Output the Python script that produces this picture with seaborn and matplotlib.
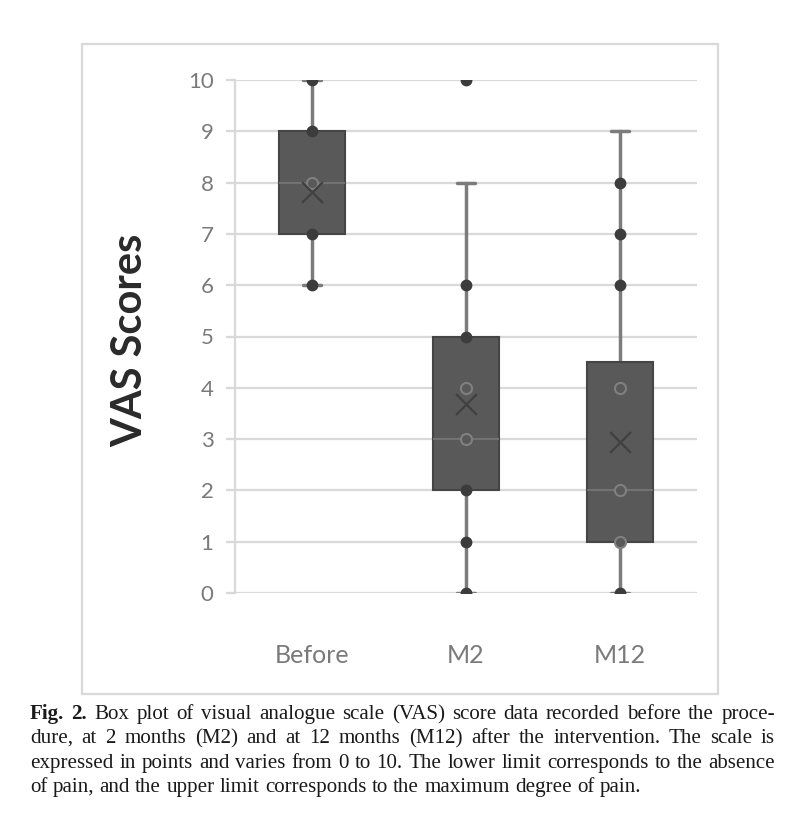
import matplotlib
matplotlib.use("Agg")
import matplotlib.pyplot as plt
from matplotlib.patches import Rectangle
import seaborn as sns
import pandas as pd
import numpy as np

# ---------------- data ----------------
groups = ["Before", "M2", "M12"]
whisker_low = [6, 0, 0]
q1 = [7, 2, 1]
median = [8, 3, 2]
q3 = [9, 5, 4.5]
whisker_high = [10, 8, 9]
means = [7.82, 3.68, 2.94]
points_before = [6, 7, 8, 9, 10]
points_m2 = [0, 1, 2, 3, 4, 5, 6, 10]
points_m12 = [0, 1, 2, 4, 6, 7, 8]
y_ticks = [0, 1, 2, 3, 4, 5, 6, 7, 8, 9, 10]
y_label = "VAS Scores"

caption_lines = [
    "Fig. 2. Box plot of visual analogue scale (VAS) score data recorded before the proce-",
    "dure, at 2 months (M2) and at 12 months (M12) after the intervention. The scale is",
    "expressed in points and varies from 0 to 10. The lower limit corresponds to the absence",
    "of pain, and the upper limit corresponds to the maximum degree of pain.",
]
bold_words = 2  # "Fig." "2."

# ---------------- style ----------------
sns.set_theme(style="white")
plt.rcParams["font.family"] = ["Lato", "DejaVu Sans"]

W, H = 800, 840
fig = plt.figure(figsize=(W / 100, H / 100), dpi=100)
fig.patch.set_facecolor("white")

# chart frame
fig.patches.append(Rectangle((82 / W, 1 - 694 / H), (718 - 82) / W, (694 - 44) / H,
                             transform=fig.transFigure, fill=False,
                             edgecolor="#d9d9d9", lw=1.6, zorder=0))

ax_l, ax_r, ax_t, ax_b = 235, 697, 80, 593
ax = fig.add_axes([ax_l / W, 1 - ax_b / H, (ax_r - ax_l) / W, (ax_b - ax_t) / H])
ax.set_facecolor("none")

box_face = "#595959"
box_edge = "#454545"
whisk_col = "#7c7c7c"

stats = []
for i, g in enumerate(groups):
    stats.append(dict(label=g, whislo=whisker_low[i], q1=q1[i], med=median[i],
                      q3=q3[i], whishi=whisker_high[i], mean=means[i], fliers=[]))

ax.bxp(stats, positions=range(len(groups)), widths=0.43, capwidths=0.12,
       showmeans=False, showfliers=False, patch_artist=True,
       boxprops=dict(facecolor=box_face, edgecolor=box_edge, lw=1.5, zorder=2),
       medianprops=dict(color="#727272", lw=1.5, zorder=2.5),
       whiskerprops=dict(color=whisk_col, lw=2.5, zorder=1.5),
       capprops=dict(color=whisk_col, lw=2.5, zorder=1.5))

# points
rows = []
for g, pts, lo, hi in zip(groups, [points_before, points_m2, points_m12], q1, q3):
    for v in pts:
        rows.append(dict(group=g, value=v, inside=(lo < v < hi) or (g == "M12" and v == lo)))
df = pd.DataFrame(rows)

sns.stripplot(data=df[~df["inside"]], x="group", y="value", order=groups, jitter=False,
              size=8.5, color="#3c3c3c", linewidth=0, ax=ax, zorder=3)
sns.stripplot(data=df[df["inside"]], x="group", y="value", order=groups, jitter=False,
              size=8, color=box_face, edgecolor="#808080", linewidth=1.5, ax=ax, zorder=3)

mean_df = pd.DataFrame(dict(group=groups, value=means))
sns.stripplot(data=mean_df, x="group", y="value", order=groups, jitter=False,
              marker="x", size=15, color="#404040", linewidth=1.6, ax=ax, zorder=4)

ax.set_xlim(-0.5, len(groups) - 0.5)
ax.set_ylim(0, 10)
ax.set_yticks(y_ticks)
ax.set_xticks(range(len(groups)))
ax.set_xticklabels(groups)
ax.set_xlabel("")
ax.set_ylabel("")

ax.yaxis.grid(True, color="#d9d9d9", lw=1.6, zorder=0)
ax.set_axisbelow(True)
for s in ["top", "right", "bottom"]:
    ax.spines[s].set_visible(False)
ax.spines["left"].set_color("#d9d9d9")
ax.spines["left"].set_linewidth(1.6)

ax.tick_params(axis="y", length=6.5, width=1.6, color="#d9d9d9", labelcolor="#7a7a7a",
               labelsize=16, pad=9, left=True)
ax.tick_params(axis="x", length=0, labelcolor="#7a7a7a", labelsize=18, pad=37)

fig.text(130 / W, 1 - 340 / H, y_label, rotation=90, ha="center", va="center",
         fontsize=30, weight="bold", color="#2a2a2a", family=["Lato", "DejaVu Sans"])

# ---------------- caption (justified) ----------------
cap_family = ["Liberation Serif", "DejaVu Serif"]
x0, x1 = 30, 775
baselines = [719, 743, 768, 792]
renderer = fig.canvas.get_renderer()


def word_width(w, size, weight):
    t = fig.text(0, 0, w, fontsize=size, family=cap_family, weight=weight)
    bb = t.get_window_extent(renderer)
    t.remove()
    return bb.width


# font size so the tightest line fits naturally
ref_size = 10
ww = word_width(caption_lines[2], ref_size, "normal")
cap_size = ref_size * (x1 - x0) / ww * 0.985

space_w = word_width("a a", cap_size, "normal") - word_width("aa", cap_size, "normal")
for li, line in enumerate(caption_lines):
    words = line.split(" ")
    weights = ["bold" if (li == 0 and k < bold_words) else "normal" for k in range(len(words))]
    widths = [word_width(w, cap_size, wt) for w, wt in zip(words, weights)]
    if li < len(caption_lines) - 1:
        gap = (x1 - x0 - sum(widths)) / (len(words) - 1)
    else:
        gap = space_w
    x = x0
    for w, wt, wd in zip(words, weights, widths):
        fig.text(x / W, 1 - baselines[li] / H, w, fontsize=cap_size, family=cap_family,
                 weight=wt, color="#1a1a1a", ha="left", va="baseline")
        x += wd + gap

fig.savefig("out.png", dpi=100, facecolor="white")
